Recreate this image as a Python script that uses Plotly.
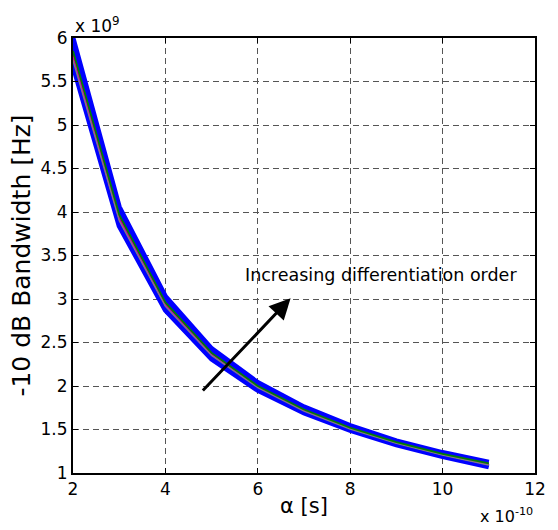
import plotly.graph_objects as go

alpha = [2, 3, 4, 5, 6, 7, 8, 9, 10, 11]  # x 1e-10 s

bw_order1 = [6.00, 4.06, 3.03, 2.43, 2.04, 1.76, 1.545, 1.37, 1.235, 1.125]
bw_order2 = [5.85, 3.97, 2.96, 2.38, 2.00, 1.73, 1.52, 1.355, 1.22, 1.11]
bw_order3 = [5.80, 3.94, 2.94, 2.37, 1.995, 1.725, 1.52, 1.35, 1.215, 1.105]
bw_order4 = [5.78, 3.92, 2.93, 2.36, 1.99, 1.72, 1.515, 1.35, 1.21, 1.10]
bw_order5 = [5.76, 3.91, 2.92, 2.355, 1.985, 1.715, 1.51, 1.345, 1.21, 1.095]
bw_order6 = [5.74, 3.90, 2.915, 2.35, 1.98, 1.71, 1.505, 1.34, 1.205, 1.09]
bw_order7 = [5.68, 3.84, 2.87, 2.31, 1.95, 1.69, 1.49, 1.325, 1.19, 1.07]

x_ticks = [2, 4, 6, 8, 10, 12]
y_ticks = [1, 1.5, 2, 2.5, 3, 3.5, 4, 4.5, 5, 5.5, 6]

FONT = "DejaVu Sans, Liberation Sans, Arial, sans-serif"

fig = go.Figure()
fig.add_trace(go.Scatter(x=alpha, y=bw_order1, mode="lines",
                         line=dict(color="#0000ff", width=5), showlegend=False))
fig.add_trace(go.Scatter(x=alpha, y=bw_order7, mode="lines", fill="tonexty",
                         fillcolor="#0000ff",
                         line=dict(color="#0000ff", width=5), showlegend=False))
series = [
    (bw_order3, "#ff0000", 1.0),
    (bw_order5, "#bfbf00", 1.0),
    (bw_order4, "#bf00bf", 1.2),
    (bw_order6, "#808080", 1.2),
    (bw_order2, "#008000", 1.8),
]
for ys, col, w in series:
    fig.add_trace(go.Scatter(x=alpha, y=ys, mode="lines",
                             line=dict(color=col, width=w), showlegend=False))

fig.add_annotation(x=6.71, y=3.01, ax=4.78, ay=1.93, xref="x", yref="y",
                   axref="x", ayref="y", showarrow=True, arrowhead=2,
                   arrowsize=1.4, arrowwidth=3, arrowcolor="black", text="")
fig.add_annotation(x=8.66, y=3.276, xref="x", yref="y", showarrow=False,
                   text="Increasing differentiation order",
                   font=dict(family=FONT, size=17.5, color="black"))
fig.add_annotation(x=0, y=1, xref="paper", yref="paper", xanchor="left",
                   yanchor="bottom", showarrow=False, yshift=0,
                   text="x 10<sup>9</sup>",
                   font=dict(family=FONT, size=17, color="black"))
fig.add_annotation(x=1.0, y=0, xref="paper", yref="paper", xanchor="right",
                   yanchor="top", showarrow=False, yshift=-30,
                   text="x 10<sup>-10</sup>",
                   font=dict(family=FONT, size=16, color="black"))

axis_common = dict(showline=True, linecolor="black", linewidth=2, mirror="allticks",
                   ticks="inside", ticklen=5, tickwidth=1, tickcolor="black",
                   showgrid=True, gridcolor="#555555", griddash="6px,4px", gridwidth=1,
                   zeroline=False, tickfont=dict(family=FONT, size=17, color="black"))

fig.update_xaxes(range=[2, 12], tickvals=x_ticks, ticktext=[str(v) for v in x_ticks],
                 title=dict(text="α [s]", font=dict(family=FONT, size=21, color="black"),
                            standoff=0),
                 **axis_common)
fig.update_yaxes(range=[1, 6], tickvals=y_ticks, ticktext=[f"{v:g}" for v in y_ticks],
                 title=dict(text="-10 dB Bandwidth [Hz]",
                            font=dict(family=FONT, size=25, color="black"), standoff=3),
                 **axis_common)

fig.update_layout(width=558, height=530, margin=dict(l=73, r=21, t=38, b=57),
                  plot_bgcolor="white", paper_bgcolor="white")

fig.write_html("out.html")
